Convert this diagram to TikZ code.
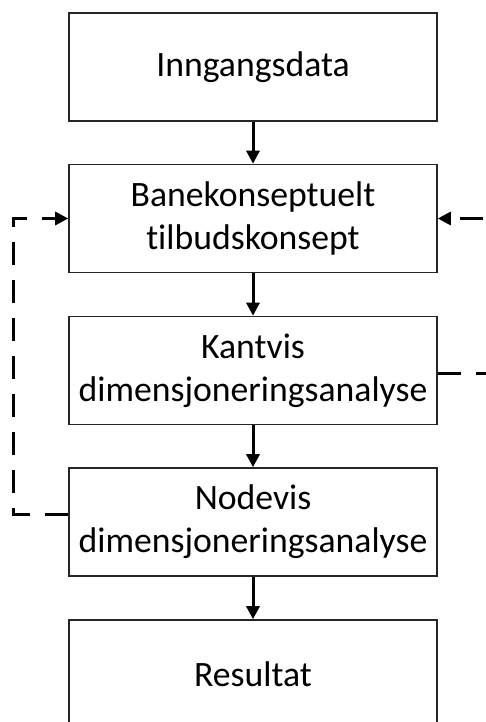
\documentclass[tikz,border=0pt]{standalone}
\usepackage{fontspec}
\setmainfont{Carlito}[Ligatures=NoCommon]
\usetikzlibrary{arrows.meta}
\begin{document}
\begin{tikzpicture}[x=1pt,y=-1pt,
  stepbox/.style={draw=black!85, line width=1.6pt, minimum width=368pt,
    minimum height=108pt, inner sep=0pt, align=center, text width=364pt,
    font=\fontsize{35.7}{43}\selectfont},
  flow/.style={line width=3pt, -{Triangle[length=13pt,width=13pt]}},
  feedback/.style={line width=3pt, dash pattern=on 23pt off 15pt,
    -{Triangle[length=13pt,width=13pt]}}]
  \useasboundingbox (0,0) rectangle (486,722);
  \clip (0,0) rectangle (486,722);

  % process steps, top to bottom
  \node[stepbox] (b1) at (253,67)  {Inngangsdata};
  \node[stepbox] (b2) at (253,218.5) {Banekonseptuelt\\tilbudskonsept};
  \node[stepbox] (b3) at (253,370.5) {Kantvis\\dimensjoneringsanalyse};
  \node[stepbox] (b4) at (253,522) {Nodevis\\dimensjoneringsanalyse};
  \node[stepbox] (b5) at (253,674) {Resultat};

  % main flow
  \draw[flow] (b1) -- (b2);
  \draw[flow] (b2) -- (b3);
  \draw[flow] (b3) -- (b4);
  \draw[flow] (b4) -- (b5);

  % feedback loops back to the concept step
  \coordinate (lb) at (13,514);
  \coordinate (lt) at (13,218.5);
  \coordinate (rb) at (497,373);
  \coordinate (rt) at (497,218.5);
  \draw[feedback] ([yshift=8pt]b4.west) -- (lb) -- (lt) -- (b2.west);
  \draw[feedback] ([yshift=-2.5pt]b3.east) -- (rb) -- (rt) -- (b2.east);
\end{tikzpicture}
\end{document}
